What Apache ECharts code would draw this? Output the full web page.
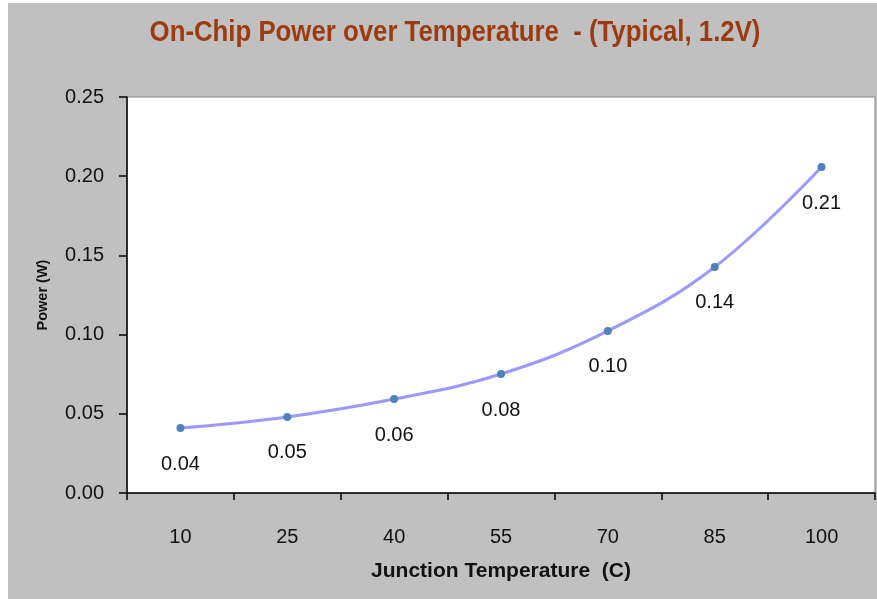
<!DOCTYPE html>
<html>
<head>
<meta charset="utf-8">
<script src="https://cdn.jsdelivr.net/npm/echarts@6/dist/echarts.min.js"></script>
<style>
  html, body { margin: 0; padding: 0; background: #ffffff; }
  #chart { position: absolute; left: 8px; top: 3px; width: 869px; height: 596px; background: #c0c0c0; }
</style>
</head>
<body>
<div id="chart"></div>
<script>
const titleText = 'On-Chip Power over Temperature  - (Typical, 1.2V)';
const categories = ['10', '25', '40', '55', '70', '85', '100'];
const powerValues = [0.041, 0.048, 0.0593, 0.0751, 0.1023, 0.1427, 0.2058];
const yTicks = [0, 0.05, 0.10, 0.15, 0.20, 0.25];
const xAxisName = 'Junction Temperature  (C)';
const yAxisName = 'Power (W)';

const sans = '"Liberation Sans", Arial, sans-serif';
const chart = echarts.init(document.getElementById('chart'), null, { renderer: 'canvas' });
chart.setOption({
  animation: false,
  backgroundColor: '#c0c0c0',
  graphic: [{
    type: 'text',
    x: 447,
    y: 30,
    scaleX: 0.955,
    scaleY: 1.1,
    style: {
      text: titleText,
      x: 0, y: 0,
      align: 'center',
      verticalAlign: 'middle',
      font: 'bold 27px ' + sans,
      fill: '#9c3a10'
    }
  }],
  grid: {
    left: 119, right: 2, top: 94, bottom: 106,
    show: true, backgroundColor: '#ffffff', borderColor: '#888888', borderWidth: 1,
    containLabel: false
  },
  xAxis: {
    type: 'category',
    data: categories,
    boundaryGap: true,
    name: xAxisName,
    nameLocation: 'middle',
    nameGap: 68,
    nameTextStyle: { fontFamily: sans, fontSize: 21, fontWeight: 'bold', color: '#111' },
    axisLine: { lineStyle: { color: '#000', width: 1.5 } },
    axisTick: { show: true, length: 7, alignWithLabel: false, lineStyle: { color: '#000', width: 1.5 } },
    axisLabel: { margin: 34, fontFamily: sans, fontSize: 20, color: '#111' },
    splitLine: { show: false }
  },
  yAxis: {
    type: 'value',
    min: 0, max: 0.25, interval: 0.05,
    name: yAxisName,
    nameLocation: 'middle',
    nameGap: 77,
    nameTextStyle: { fontFamily: sans, fontSize: 14.5, fontWeight: 'bold', color: '#111' },
    axisLine: { show: true, lineStyle: { color: '#000', width: 1.5 } },
    axisTick: { show: true, length: 8, lineStyle: { color: '#000', width: 1.5 } },
    axisLabel: {
      margin: 23, fontFamily: sans, fontSize: 20, color: '#111',
      formatter: v => v.toFixed(2)
    },
    splitLine: { show: false }
  },
  series: [{
    type: 'line',
    data: powerValues,
    smooth: 0.4,
    symbol: 'circle',
    symbolSize: 8,
    lineStyle: { color: '#9999ff', width: 3 },
    itemStyle: { color: '#4f81bd' },
    label: {
      show: true,
      position: 'bottom',
      distance: 22,
      fontFamily: sans,
      fontSize: 20,
      color: '#111',
      formatter: p => p.value.toFixed(2)
    },
    z: 3
  }]
});
</script>
</body>
</html>
